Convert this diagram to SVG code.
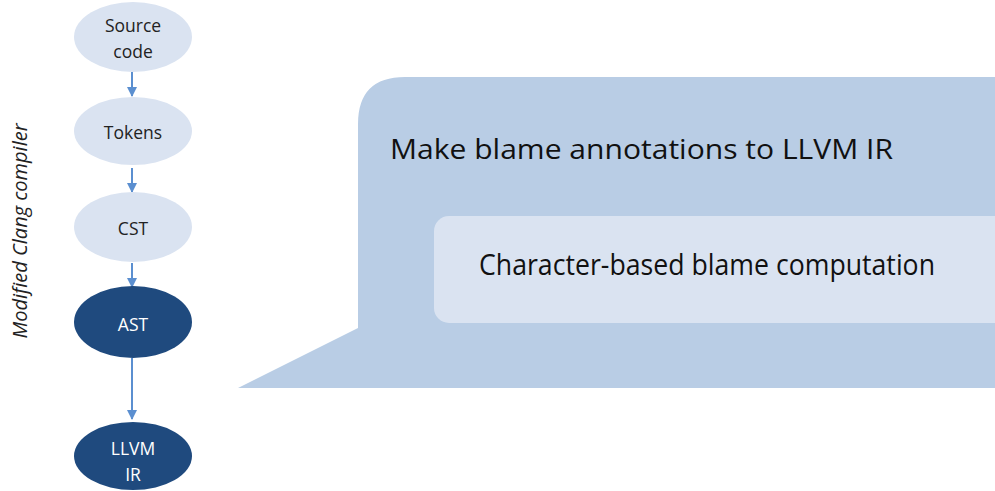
<svg xmlns="http://www.w3.org/2000/svg" width="995" height="491" viewBox="0 0 995 491">
<style>
.lt{fill:#dae3f1}
.dk{fill:#1f4a7e}
.lbl{font-family:"Open Sans","Liberation Sans",sans-serif;font-size:17.5px;text-anchor:middle;fill:#222}
.wl{fill:#ffffff}
.big{font-family:"Open Sans","Liberation Sans",sans-serif;fill:#111}
.edge{stroke:#5b8fd0;stroke-width:2;fill:none;marker-end:url(#ah)}
</style>
<defs>
<marker id="ah" viewBox="0 0 10 10" refX="9" refY="5" markerWidth="5" markerHeight="5" orient="auto" markerUnits="strokeWidth">
<path d="M0,0 L10,5 L0,10 z" fill="#5b8fd0"/>
</marker>
</defs>
<rect width="995" height="491" fill="#ffffff"/>
<g id="callout">
<path d="M238,388 L358,328 L358,124 Q358,77 405,77 L995,77 L995,388 Z" fill="#b9cde5"/>
<text class="big" x="390" y="159" font-size="28" textLength="503" lengthAdjust="spacingAndGlyphs">Make blame annotations to LLVM IR</text>
</g>
<g id="inner">
<rect x="434" y="216" width="600" height="107" rx="15" fill="#dae3f1"/>
<text class="big" x="479" y="275" font-size="30" textLength="456" lengthAdjust="spacingAndGlyphs">Character-based blame computation</text>
</g>
<g id="side-label">
<text x="27" y="231" transform="rotate(-90 27 231)" font-family="'Open Sans','Liberation Sans',sans-serif" font-size="20" font-style="italic" text-anchor="middle" fill="#222">Modified Clang compiler</text>
</g>
<g id="connectors">
<line class="edge" x1="132" y1="72" x2="132" y2="96"/>
<line class="edge" x1="132" y1="168" x2="132" y2="192"/>
<line class="edge" x1="132" y1="263" x2="132" y2="287"/>
<line class="edge" x1="132" y1="358" x2="132" y2="419"/>
</g>
<g id="source-code">
<ellipse class="lt" cx="133" cy="37" rx="59" ry="35"/>
<text class="lbl" x="133" y="32">Source</text>
<text class="lbl" x="133" y="58">code</text>
</g>
<g id="tokens">
<ellipse class="lt" cx="133" cy="131" rx="59" ry="34"/>
<text class="lbl" x="133" y="139">Tokens</text>
</g>
<g id="cst">
<ellipse class="lt" cx="133" cy="227" rx="59" ry="35"/>
<text class="lbl" x="133" y="235">CST</text>
</g>
<g id="ast">
<ellipse class="dk" cx="133" cy="322" rx="59" ry="36"/>
<text class="lbl wl" x="133" y="331">AST</text>
</g>
<g id="llvm-ir">
<ellipse class="dk" cx="133" cy="456" rx="59" ry="34"/>
<text class="lbl wl" x="133" y="455">LLVM</text>
<text class="lbl wl" x="133" y="481">IR</text>
</g>
</svg>
